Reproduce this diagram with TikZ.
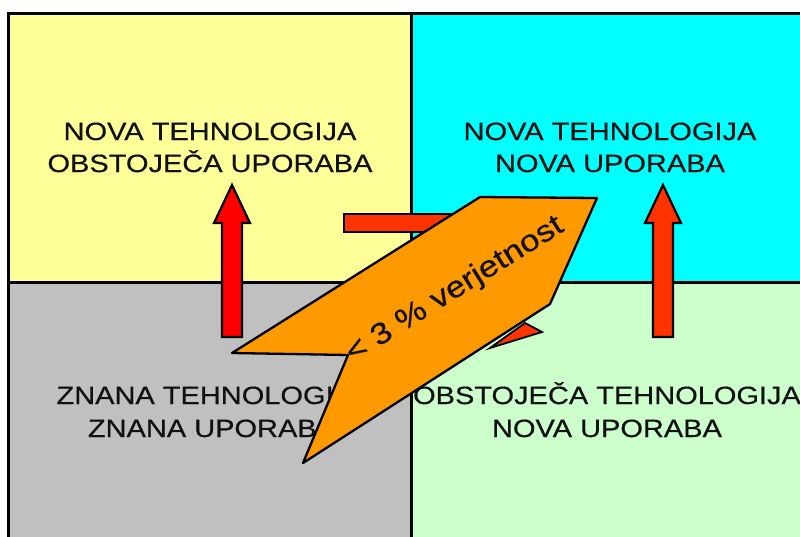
\documentclass[tikz,border=0pt]{standalone}
\usepackage{fontspec}
\setmainfont{Liberation Sans}
\newfontfamily\qfont[FakeStretch=1.16,FakeBold=0.5]{Liberation Sans}
\definecolor{qyellow}{HTML}{FFFF99}
\definecolor{qcyan}{HTML}{00FFFF}
\definecolor{qgray}{HTML}{C0C0C0}
\definecolor{qgreen}{HTML}{CCFFCC}
\definecolor{qorange}{HTML}{FF9900}
\definecolor{redA}{HTML}{FF0000}
\definecolor{redB}{HTML}{FF3300}
\definecolor{txtdark}{HTML}{111111}
\tikzset{
  qlabel/.style={anchor=base, inner sep=0pt, text=txtdark, font=\qfont\fontsize{25}{25}\selectfont},
  arrowbox/.style={draw=black, line width=2.2pt, line join=miter},
  bolt/.style={draw=black, line width=2.3pt, line join=round, fill=qorange},
  grid/.style={draw=black, line width=3pt}
}
\begin{document}
\begin{tikzpicture}[x=1pt,y=-1pt]
\useasboundingbox (0,0) rectangle (800,536);
\clip (0,0) rectangle (800,536);
\fill[white] (0,0) rectangle (800,536);
% quadrants
\fill[qyellow] (8,13) rectangle (411,282);
\fill[qcyan] (411,13) rectangle (830,282);
\fill[qgray] (8,282) rectangle (411,570);
\fill[qgreen] (411,282) rectangle (830,570);
\draw[grid] (8,13) rectangle (830,570);
\draw[grid] (8,282) -- (830,282);
\draw[grid] (411,13) -- (411,570);
% labels
\node[qlabel] (tl1) at (210,140) {NOVA TEHNOLOGIJA};
\node[qlabel] (tl2) at (210,172) {OBSTOJEČA UPORABA};
\node[qlabel] (tr1) at (610,140) {NOVA TEHNOLOGIJA};
\node[qlabel] (tr2) at (610,172) {NOVA UPORABA};
\node[qlabel] (bl1) at (212,404) {ZNANA TEHNOLOGIJA};
\node[qlabel] (bl2) at (212,437) {ZNANA UPORABA};
\node[qlabel] (br1) at (607,404) {OBSTOJEČA TEHNOLOGIJA};
\node[qlabel] (br2) at (607,437) {NOVA UPORABA};
% arrows
\draw[arrowbox, fill=redA] (222,337) -- (222,223) -- (214,223) -- (232,185) -- (250,223) -- (242,223) -- (242,337) -- cycle;
\draw[arrowbox, fill=redB] (653,337) -- (653,223) -- (645,223) -- (663,185) -- (681,223) -- (673,223) -- (673,337) -- cycle;
\draw[arrowbox, fill=redB] (344,214) rectangle (475,232);
\draw[arrowbox, line width=1.8pt, fill=redB] (542,332) -- (525,323) -- (490,348) -- cycle;
% lightning
\draw[bolt] (232,353) -- (480,197) -- (597,198) -- (550,304) -- (303,463) -- (348,355) -- cycle;
\node[rotate=32, inner sep=0pt, text=txtdark, font=\qfont\fontsize{30}{30}\selectfont] (bolttext) at (455,290) {< 3 \% verjetnost};
\end{tikzpicture}
\end{document}
